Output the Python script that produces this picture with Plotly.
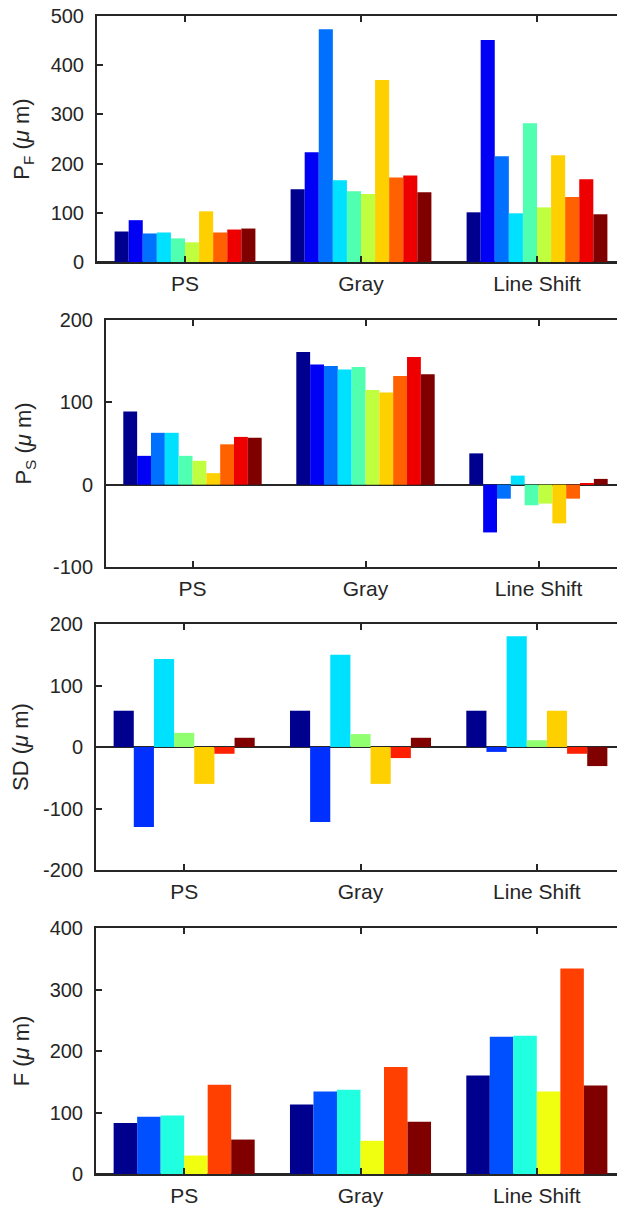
import plotly.graph_objects as go

categories = ["PS", "Gray", "Line Shift"]

# Panel 1: P_F (10 series)
pf_values = [
    [62, 148, 101],
    [85, 223, 451],
    [58, 473, 215],
    [60, 166, 99],
    [48, 144, 282],
    [40, 138, 111],
    [103, 370, 217],
    [60, 172, 132],
    [66, 176, 168],
    [68, 142, 97],
]
# Panel 2: P_S (10 series)
ps_values = [
    [89, 161, 38],
    [35, 146, -58],
    [63, 144, -17],
    [63, 140, 11],
    [35, 143, -25],
    [29, 115, -23],
    [14, 112, -47],
    [49, 132, -17],
    [58, 155, 2],
    [57, 134, 7],
]
# Panel 3: SD (7 series)
sd_values = [
    [59, 59, 59],
    [-130, -122, -8],
    [143, 150, 180],
    [23, 21, 11],
    [-60, -60, 59],
    [-11, -18, -11],
    [15, 15, -31],
]
# Panel 4: F (6 series)
f_values = [
    [83, 113, 160],
    [93, 134, 223],
    [95, 137, 225],
    [30, 54, 134],
    [145, 174, 334],
    [56, 85, 144],
]

# y tick values and labels per panel
pf_ticks = [0, 100, 200, 300, 400, 500]
ps_ticks = [-100, 0, 100, 200]
sd_ticks = [-200, -100, 0, 100, 200]
f_ticks = [0, 100, 200, 300, 400]

colors10 = ["#00008F", "#0000F5", "#0070FF", "#00E0FF", "#50FFB0",
            "#C0FF40", "#FFD000", "#FF6000", "#EE0000", "#800000"]
colors7 = ["#00008F", "#0030FF", "#00E0FF", "#90FF70", "#FFD000", "#FF2000", "#800000"]
colors6 = ["#00008F", "#0050FF", "#20FFE0", "#F0FF10", "#FF4000", "#800000"]

y_titles = ["P<sub>F</sub> (<i>μ</i> m)", "P<sub>S</sub> (<i>μ</i> m)",
            "SD (<i>μ</i> m)", "F (<i>μ</i> m)"]
y_ranges = [[0, 500], [-100, 200], [-200, 200], [0, 400]]
y_ticks = [pf_ticks, ps_ticks, sd_ticks, f_ticks]

panels = [(pf_values, colors10), (ps_values, colors10), (sd_values, colors7), (f_values, colors6)]

# the page body has an 8px margin; size the figure so it ends at the window edge
OFF = 8
W, H = 625 - OFF, 1209 - OFF
# pixel geometry of axes boxes in window pixels (top, bottom, left)
boxes = [(16, 262, 97), (320, 567, 106), (624, 870, 96), (928, 1174, 96)]
title_standoff = [15, 15, 11, 14]

fig = go.Figure()
ink = "#262626"
family = "Liberation Sans, Arial, Helvetica, sans-serif"
yfont = dict(family=family, size=20, color=ink)
xfont = dict(family=family, size=21, color=ink)
tfont = dict(family=family, size=22, color=ink)

for p, (vals, cols) in enumerate(panels):
    ax = "" if p == 0 else str(p + 1)
    for i, series in enumerate(vals):
        fig.add_trace(go.Bar(
            x=categories, y=series, marker=dict(color=cols[i], line=dict(width=0)),
            xaxis="x" + ax, yaxis="y" + ax, showlegend=False,
        ))
    top, bot, left = boxes[p]
    top, bot, left = top - OFF, bot - OFF, left - OFF
    fig.layout["xaxis" + ax] = dict(
        domain=[left / W, 1.0], anchor="y" + ax, type="category",
        range=[-0.5, 2.5], showline=True, linecolor=ink, linewidth=2, mirror="ticks",
        ticks="inside", ticklen=6, tickwidth=2, tickcolor=ink, showgrid=False,
        tickfont=xfont, ticklabelstandoff=2, zeroline=False, automargin=False,
        ticklabeloverflow="allow",
    )
    fig.layout["yaxis" + ax] = dict(
        domain=[1 - bot / H, 1 - top / H], anchor="x" + ax,
        range=y_ranges[p], tickmode="array", tickvals=y_ticks[p],
        ticktext=[str(v) for v in y_ticks[p]],
        showline=True, linecolor=ink, linewidth=2, mirror="ticks",
        ticks="inside", ticklen=6, tickwidth=2, tickcolor=ink, showgrid=False,
        zeroline=True, zerolinecolor=ink, zerolinewidth=2,
        tickfont=yfont, ticklabelstandoff=7, automargin=False,
        ticklabeloverflow="allow",
        title=dict(text=y_titles[p], font=tfont, standoff=title_standoff[p]),
    )

fig.update_layout(
    width=W, height=H, margin=dict(l=0, r=0, t=0, b=0, autoexpand=False),
    barmode="group", bargap=0.2, bargroupgap=0,
    plot_bgcolor="white", paper_bgcolor="white",
    font=yfont,
)

fig.write_html("out.html")
